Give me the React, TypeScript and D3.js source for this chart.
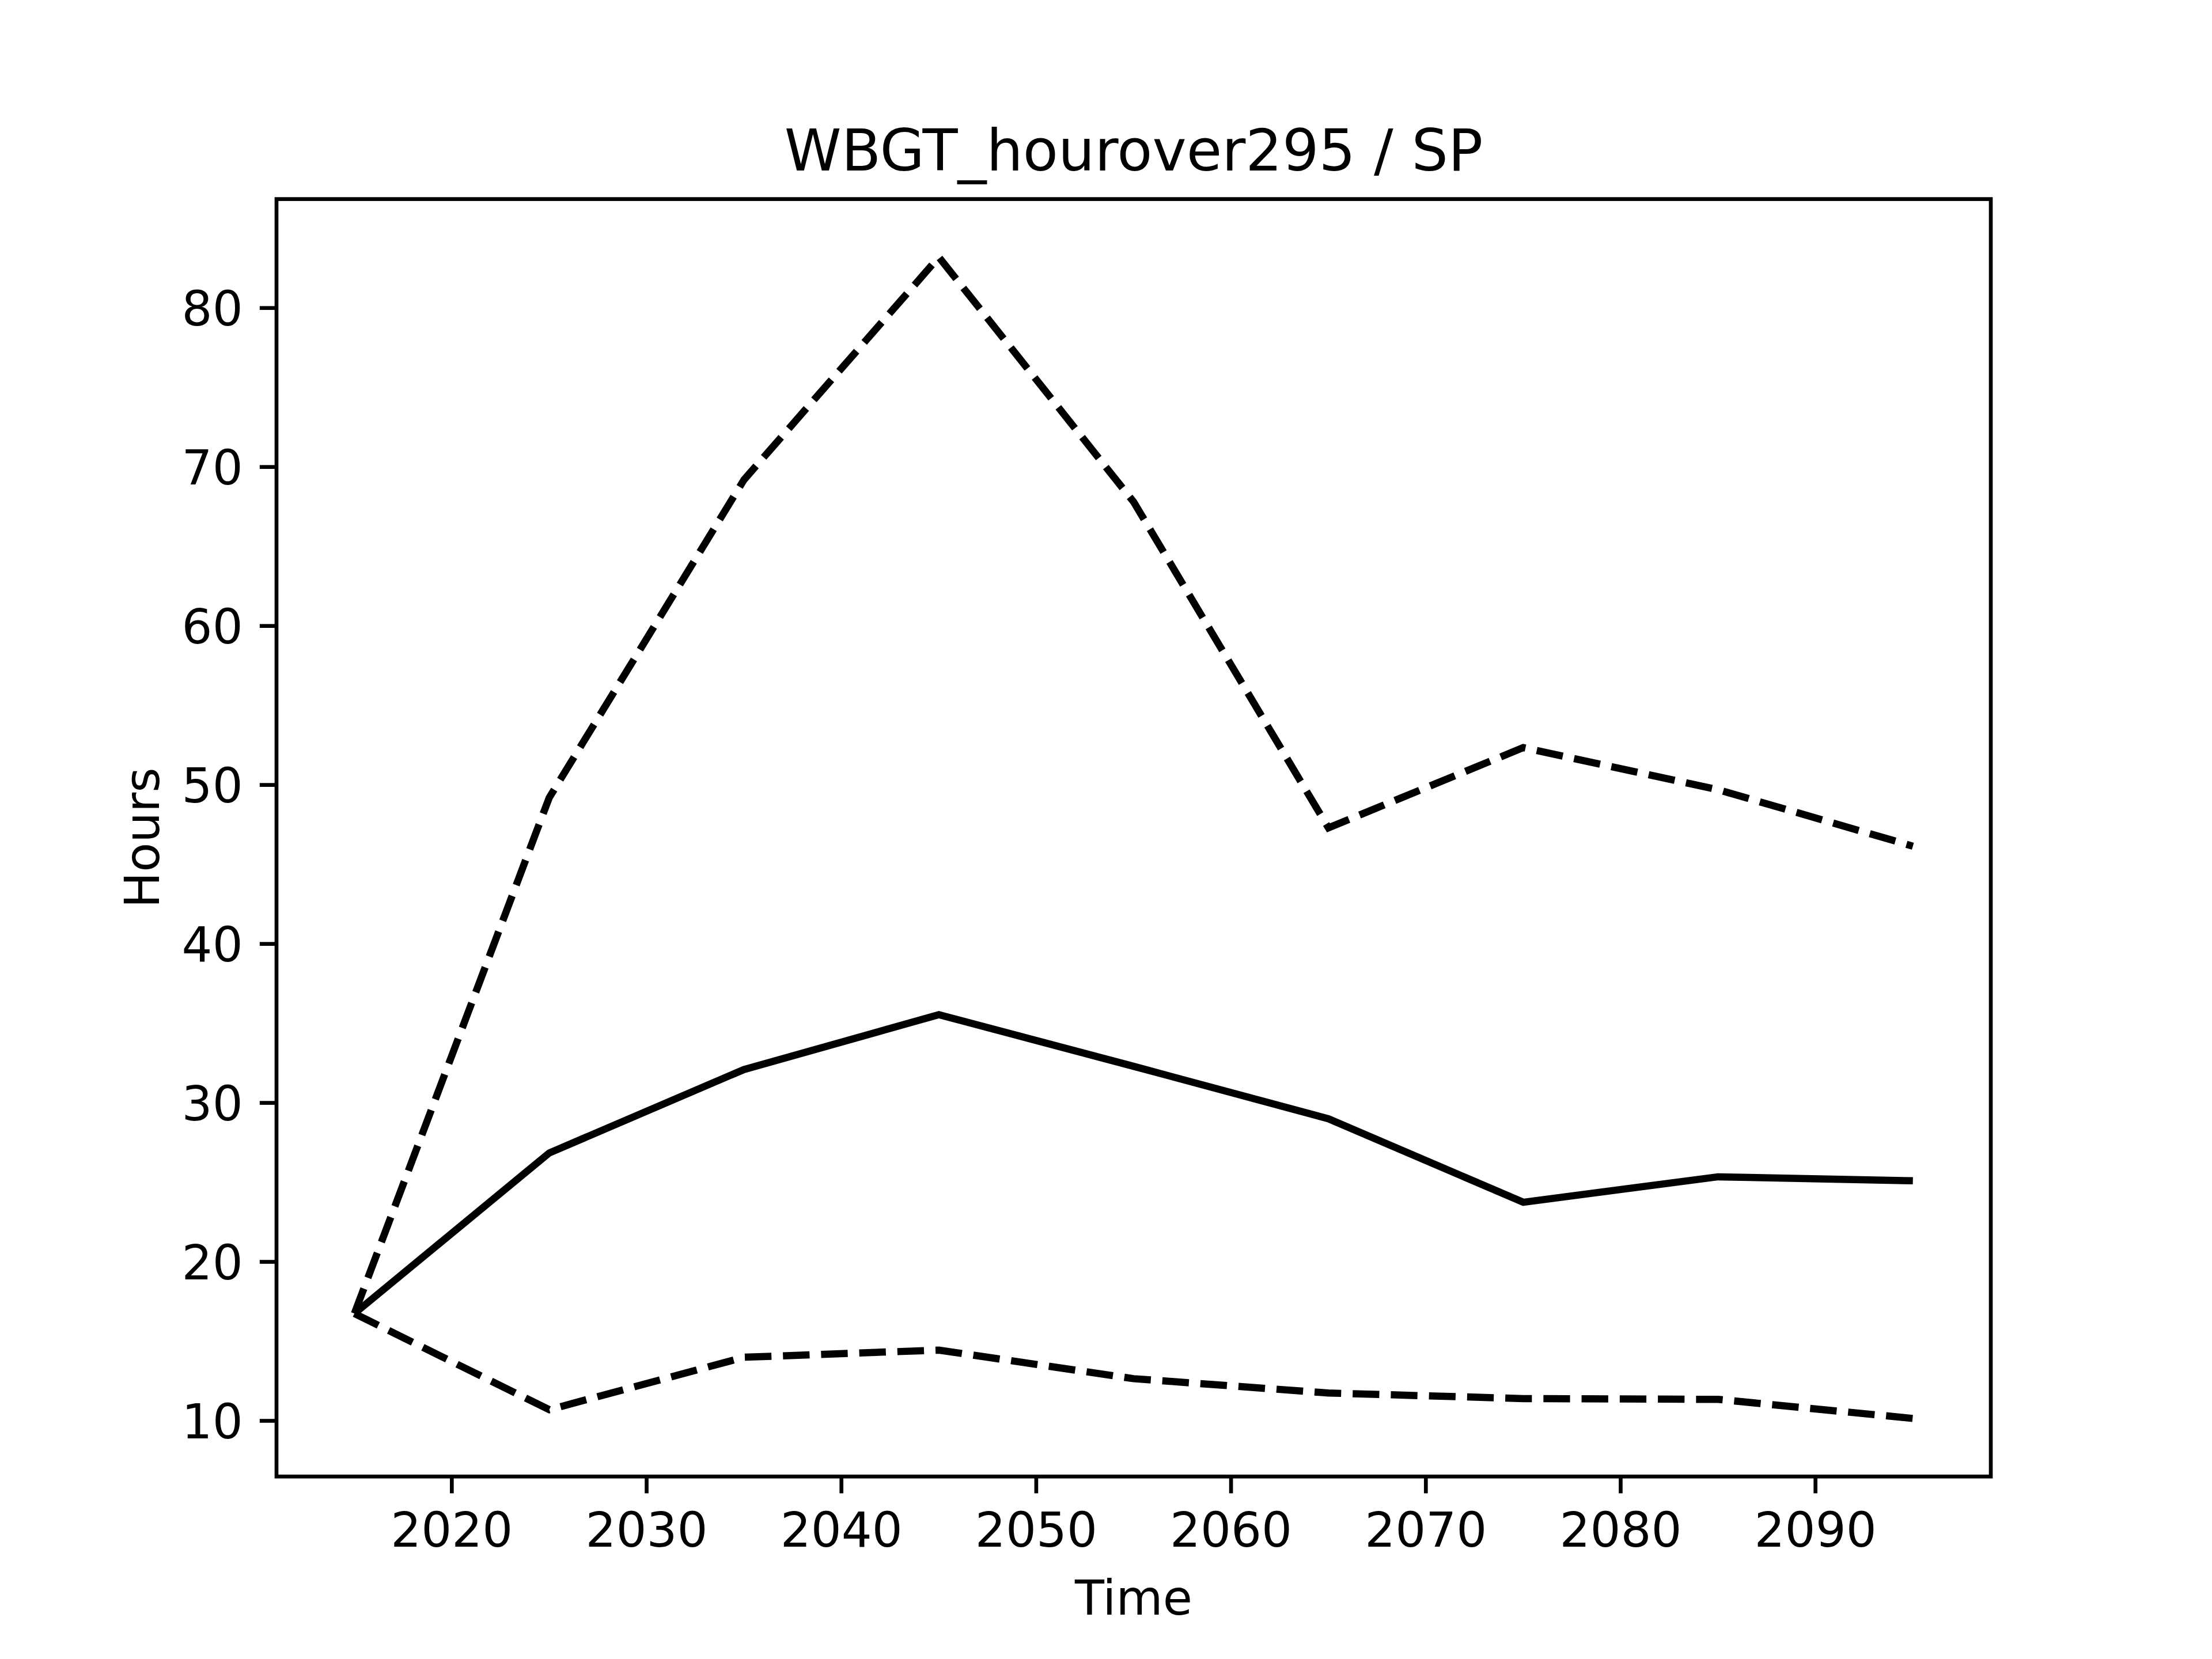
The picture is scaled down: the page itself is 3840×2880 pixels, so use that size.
import React from "react";
import * as d3 from "d3";

const years = [2015, 2025, 2035, 2045, 2055, 2065, 2075, 2085, 2095];
const upper = [16.75, 49.2, 69.2, 83.2, 67.8, 47.3, 52.35, 49.7, 46.15];
const mean = [16.75, 26.85, 32.1, 35.55, 32.3, 29.0, 23.75, 25.35, 25.1];
const lower = [16.75, 10.7, 14.0, 14.45, 12.65, 11.75, 11.4, 11.35, 10.15];
const xTicks = [2020, 2030, 2040, 2050, 2060, 2070, 2080, 2090];
const yTicks = [10, 20, 30, 40, 50, 60, 70, 80];
const title = "WBGT_hourover295 / SP";
const xLabel = "Time";
const yLabel = "Hours";

const W = 3840;
const H = 2880;
const L = 480;
const R = 3456;
const T = 345.6;
const B = 2563.2;
const pt = 600 / 72;

export default function App() {
  const xMin = d3.min(years)!;
  const xMax = d3.max(years)!;
  const xPad = (xMax - xMin) * 0.05;
  const all = [...upper, ...mean, ...lower];
  const yMin = d3.min(all)!;
  const yMax = d3.max(all)!;
  const yPad = (yMax - yMin) * 0.05;
  const x = d3.scaleLinear().domain([xMin - xPad, xMax + xPad]).range([L, R]);
  const y = d3.scaleLinear().domain([yMin - yPad, yMax + yPad]).range([B, T]);
  const line = d3
    .line<number>()
    .x((_, i) => x(years[i]))
    .y((d) => y(d));

  const fs = 10 * pt;
  const lw = 1.5 * pt;
  const spine = 0.8 * pt;
  const tickLen = 3.5 * pt;
  const dash = `${3.7 * lw} ${1.6 * lw}`;
  const font = "DejaVu Sans";

  return (
    <svg
      width={W}
      height={H}
      style={{ position: "absolute", left: 0, top: 0, background: "#fff" }}
      fontFamily={font}
    >
      <rect x={0} y={0} width={W} height={H} fill="#fff" />
      <defs>
        <clipPath id="plot">
          <rect x={L} y={T} width={R - L} height={B - T} />
        </clipPath>
      </defs>
      <g clipPath="url(#plot)" fill="none" stroke="#000" strokeWidth={lw}>
        <path d={line(upper)!} strokeDasharray={dash} />
        <path d={line(mean)!} />
        <path d={line(lower)!} strokeDasharray={dash} />
      </g>
      <rect
        x={L}
        y={T}
        width={R - L}
        height={B - T}
        fill="none"
        stroke="#000"
        strokeWidth={spine}
        strokeLinejoin="miter"
      />
      {xTicks.map((t) => (
        <g key={t}>
          <line x1={x(t)} x2={x(t)} y1={B} y2={B + tickLen} stroke="#000" strokeWidth={spine} />
          <text x={x(t)} y={B + tickLen + 3.5 * pt + 0.76 * fs} fontSize={fs} textAnchor="middle">
            {t}
          </text>
        </g>
      ))}
      {yTicks.map((t) => (
        <g key={t}>
          <line x1={L - tickLen} x2={L} y1={y(t)} y2={y(t)} stroke="#000" strokeWidth={spine} />
          <text x={L - tickLen - 3.5 * pt} y={y(t) + 0.364 * fs} fontSize={fs} textAnchor="end">
            {t}
          </text>
        </g>
      ))}
      <text x={(L + R) / 2} y={T - 6 * pt} fontSize={12 * pt} textAnchor="middle">
        {title}
      </text>
      <text x={(L + R) / 2} y={2803} fontSize={fs} textAnchor="middle">
        {xLabel}
      </text>
      <text
        transform={`translate(276, ${(T + B) / 2}) rotate(-90)`}
        fontSize={fs}
        textAnchor="middle"
      >
        {yLabel}
      </text>
    </svg>
  );
}
